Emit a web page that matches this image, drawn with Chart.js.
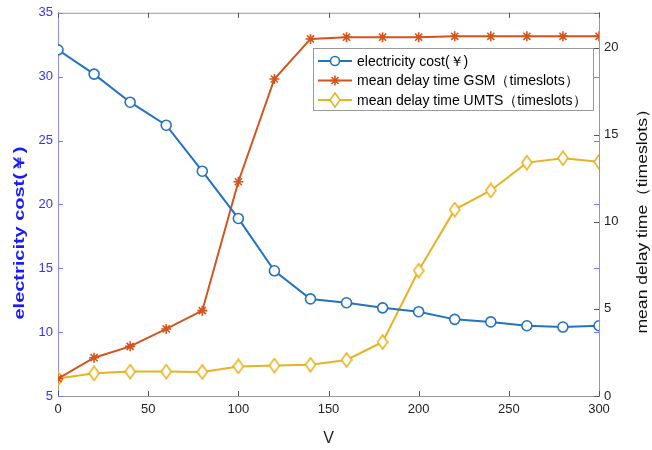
<!DOCTYPE html>
<html>
<head>
<meta charset="utf-8">
<script src="https://cdn.jsdelivr.net/npm/chart.js@4"></script>
<style>
  body { margin: 0; background: #fff; }
  #wrap { width: 652px; height: 450px; }
</style>
</head>
<body>
<div id="wrap"><canvas id="myChart" width="652" height="450"></canvas></div>
<script>
const vValues = [0, 20, 40, 60, 80, 100, 120, 140, 160, 180, 200, 220, 240, 260, 280, 300];
const costValues = [32.1, 30.2, 28.0, 26.2, 22.6, 18.9, 14.8, 12.6, 12.3, 11.9, 11.6, 11.0, 10.8, 10.5, 10.4, 10.5];
const gsmDelay = [1.0, 2.2, 2.85, 3.85, 4.9, 12.3, 18.2, 20.5, 20.6, 20.6, 20.6, 20.65, 20.65, 20.65, 20.65, 20.65];
const umtsDelay = [1.0, 1.3, 1.4, 1.4, 1.38, 1.7, 1.75, 1.8, 2.07, 3.1, 7.2, 10.7, 11.8, 13.4, 13.65, 13.45];
const xTicks = [0, 50, 100, 150, 200, 250, 300];
const leftTicks = [5, 10, 15, 20, 25, 30, 35];
const rightTicks = [0, 5, 10, 15, 20];
const leftTitle = 'electricity cost(￥)';
const rightTitle = 'mean delay time（timeslots）';

const blue = '#2372c4';
const orange = '#d4541c';
const yellow = '#e8b320';
const font = 'Liberation Sans, Arial, sans-serif';

// tall diamond marker like matlab 'd'
function diamond(color) {
  var c = document.createElement('canvas');
  c.width = 12; c.height = 16;
  var g = c.getContext('2d');
  g.strokeStyle = color;
  g.fillStyle = '#fff';
  g.lineWidth = 1.6;
  g.beginPath();
  g.moveTo(6, 1); g.lineTo(11, 8); g.lineTo(6, 15); g.lineTo(1, 8); g.closePath();
  g.fill(); g.stroke();
  return c;
}
const diamondImg = diamond(yellow);

const data = {
  labels: vValues,
  datasets: [
    {
      label: 'electricity cost(￥)',
      data: costValues,
      yAxisID: 'y',
      borderColor: blue,
      backgroundColor: '#fff',
      borderWidth: 2,
      pointStyle: 'circle',
      pointRadius: 5,
      pointBorderWidth: 1.6,
    },
    {
      label: 'mean delay time GSM（timeslots）',
      data: gsmDelay,
      yAxisID: 'y1',
      borderColor: orange,
      backgroundColor: orange,
      borderWidth: 2,
      pointStyle: 'star',
      pointRadius: 5,
      pointBorderWidth: 1.6,
    },
    {
      label: 'mean delay time UMTS（timeslots）',
      data: umtsDelay,
      yAxisID: 'y1',
      borderColor: yellow,
      backgroundColor: '#fff',
      borderWidth: 2,
      pointStyle: diamondImg,
      pointRadius: 6,
    },
  ]
};

// rotated text stretched to a given length
function vText(ctx, text, cx, cy, len, fontStr, color) {
  ctx.save();
  ctx.font = fontStr;
  ctx.fillStyle = color;
  ctx.textAlign = 'center';
  ctx.textBaseline = 'middle';
  var w = ctx.measureText(text).width;
  ctx.translate(cx, cy);
  ctx.rotate(-Math.PI / 2);
  ctx.scale(len / w, 1);
  ctx.fillText(text, 0, 0);
  ctx.restore();
}

// box, inward ticks, titles and legend like matlab
const matlabBox = {
  id: 'matlabBox',
  afterDatasetsDraw(chart) {
    const ctx = chart.ctx;
    const a = chart.chartArea;
    const sx = chart.scales.x, sy = chart.scales.y, sy1 = chart.scales.y1;
    ctx.save();
    ctx.lineWidth = 1;
    ctx.strokeStyle = '#9a9a9a';
    ctx.beginPath();
    ctx.moveTo(a.left, a.top + 0.5); ctx.lineTo(a.right, a.top + 0.5);
    ctx.stroke();
    // x ticks
    ctx.strokeStyle = '#555';
    xTicks.forEach(function (v) {
      var px = Math.round(sx.getPixelForValue(v)) + 0.5;
      ctx.beginPath();
      ctx.moveTo(px, a.bottom); ctx.lineTo(px, a.bottom - 5);
      ctx.moveTo(px, a.top); ctx.lineTo(px, a.top + 5);
      ctx.stroke();
    });
    // left axis ticks (blue), mirrored on right
    ctx.strokeStyle = '#7777ff';
    leftTicks.forEach(function (v) {
      var py = Math.round(sy.getPixelForValue(v)) + 0.5;
      ctx.beginPath();
      ctx.moveTo(a.left, py); ctx.lineTo(a.left + 5, py);
      ctx.moveTo(a.right, py); ctx.lineTo(a.right - 5, py);
      ctx.stroke();
    });
    ctx.strokeStyle = '#555';
    rightTicks.forEach(function (v) {
      var py = Math.round(sy1.getPixelForValue(v)) + 0.5;
      ctx.beginPath();
      ctx.moveTo(a.right, py); ctx.lineTo(a.right - 5, py);
      ctx.stroke();
    });

    // axis titles
    vText(ctx, leftTitle, 20, 233, 173, 'bold 15px ' + font, '#1a1aff');
    vText(ctx, rightTitle, 643, 217, 233, '15px ' + font, '#111');

    // legend
    var lx = 313, ly = 48, lw = 280, lh = 62;
    ctx.fillStyle = '#fff';
    ctx.fillRect(lx, ly, lw, lh);
    ctx.strokeStyle = '#9a9a9a';
    ctx.strokeRect(lx + 0.5, ly + 0.5, lw, lh);
    ctx.font = '14px ' + font;
    ctx.textBaseline = 'middle';
    chart.data.datasets.forEach(function (ds, i) {
      var cy = ly + 13 + i * 19.5;
      ctx.strokeStyle = ds.borderColor;
      ctx.lineWidth = 2;
      ctx.beginPath();
      ctx.moveTo(lx + 5, cy); ctx.lineTo(lx + 39, cy);
      ctx.stroke();
      var cx = lx + 22;
      ctx.lineWidth = 1.6;
      if (i === 0) {
        ctx.fillStyle = '#fff';
        ctx.beginPath(); ctx.arc(cx, cy, 4.5, 0, Math.PI * 2); ctx.fill(); ctx.stroke();
      } else if (i === 1) {
        ctx.beginPath();
        for (var k = 0; k < 4; k++) {
          var ang = k * Math.PI / 4;
          ctx.moveTo(cx - 5 * Math.cos(ang), cy - 5 * Math.sin(ang));
          ctx.lineTo(cx + 5 * Math.cos(ang), cy + 5 * Math.sin(ang));
        }
        ctx.stroke();
      } else {
        ctx.drawImage(diamondImg, cx - 6, cy - 8);
      }
      ctx.fillStyle = '#000';
      ctx.fillText(ds.label, lx + 44, cy + 1);
    });
    ctx.restore();
  }
};

const config = {
  type: 'line',
  data: data,
  options: {
    responsive: false,
    animation: false,
    layout: { padding: { top: 10, left: 0, right: 0, bottom: 0 } },
    plugins: {
      legend: { display: false },
      tooltip: { enabled: false },
    },
    scales: {
      x: {
        type: 'linear',
        min: 0, max: 300,
        afterBuildTicks: function (s) { s.ticks = xTicks.map(function (v) { return { value: v }; }); },
        afterFit: function (s) { s.height = 54; },
        ticks: { color: '#222', font: { family: font, size: 13 }, padding: 6, maxRotation: 0 },
        grid: { display: false, drawTicks: false },
        border: { color: '#9a9a9a' },
        title: { display: true, text: 'V', color: '#222', font: { family: font, size: 16 }, padding: { top: 4, bottom: 2 } },
      },
      y: {
        position: 'left',
        min: 5, max: 35,
        afterBuildTicks: function (s) { s.ticks = leftTicks.map(function (v) { return { value: v }; }); },
        afterFit: function (s) { s.width = 58; },
        ticks: { color: '#3333ff', font: { family: font, size: 13 }, padding: 5 },
        grid: { display: false, drawTicks: false },
        border: { color: '#8f8fff' },
      },
      y1: {
        position: 'right',
        min: 0, max: 22,
        afterBuildTicks: function (s) { s.ticks = rightTicks.map(function (v) { return { value: v }; }); },
        afterFit: function (s) { s.width = 53; },
        ticks: { color: '#222', font: { family: font, size: 13 }, padding: 5 },
        grid: { display: false, drawTicks: false },
        border: { color: '#9a9a9a' },
      },
    }
  },
  plugins: [matlabBox]
};

var ctx = document.getElementById('myChart');
var myChart = new Chart(ctx, config);
</script>
</body>
</html>
